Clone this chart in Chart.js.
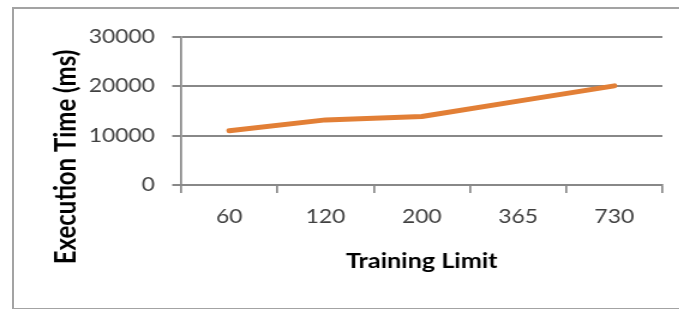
<!DOCTYPE html>
<html lang="en">

<head>
    <meta charset="UTF-8">
    <title>Execution Time vs Training Limit</title>
    <script src="https://cdn.jsdelivr.net/npm/chart.js"></script>
    <style>
        body { margin: 0; background: #fff; }
        .frame {
            position: absolute; left: 12px; top: 7px;
            width: 700px; height: 299px;
            border: 2px solid #a3a3a3;
        }
        /* the source image is stretched sideways, so the chart is too */
        .wrap {
            position: absolute; left: 0; top: 0;
            width: 566px; height: 309px;
            transform: scaleX(1.2); transform-origin: 0 0;
        }
    </style>
</head>

<body>
    <div class="frame"></div>
    <div class="wrap">
        <canvas id="myChart"></canvas>
    </div>

    <script>
        // data
        const categories = ['60', '120', '200', '365', '730'];
        const execTime = [11000, 13200, 13900, 17000, 20100];
        const yTicks = [0, 10000, 20000, 30000];
        const yTitle = 'Execution Time (ms)';

        const axisGray = '#888888';

        // y title sits lower than chart.js would centre it, so draw it by hand
        const yTitlePlugin = {
            id: 'yTitle',
            afterDraw(chart) {
                const c = chart.ctx;
                const area = chart.chartArea;
                c.save();
                c.translate(area.left - 96, area.bottom - 28);
                c.rotate(-Math.PI / 2);
                c.font = 'bold 24px Lato';
                c.fillStyle = '#000';
                c.textAlign = 'center';
                c.textBaseline = 'middle';
                c.fillText(yTitle, 0, 0);
                c.restore();
            }
        };

        const ctx = document.getElementById('myChart');
        const myChart = new Chart(ctx, {
            type: 'line',
            data: {
                labels: categories,
                datasets: [{
                    label: yTitle,
                    data: execTime,
                    borderColor: '#E27F36',
                    backgroundColor: '#E27F36',
                    borderWidth: 5,
                    borderCapStyle: 'round',
                    borderJoinStyle: 'round',
                    pointRadius: 0,
                    tension: 0
                }]
            },
            plugins: [yTitlePlugin],
            options: {
                responsive: true,
                maintainAspectRatio: false,
                animation: false,
                layout: { padding: { left: 30, right: 14, top: 37, bottom: 30 } },
                plugins: {
                    legend: { display: false },
                    tooltip: { enabled: false }
                },
                scales: {
                    x: {
                        offset: true,
                        grid: {
                            offset: true,
                            drawOnChartArea: false,
                            color: axisGray,
                            lineWidth: 1.7,
                            tickLength: 8
                        },
                        border: { color: axisGray, width: 1.7 },
                        ticks: {
                            color: '#404040',
                            padding: 12,
                            font: { family: 'Lato', size: 19 }
                        },
                        title: {
                            display: true,
                            text: 'Training Limit',
                            color: '#000',
                            padding: { top: 4, bottom: 5 },
                            font: { family: 'Lato', size: 21, weight: 'bold' }
                        },
                        afterFit: s => { s.height = 94; }
                    },
                    y: {
                        min: 0,
                        max: 30000,
                        afterBuildTicks: s => { s.ticks = yTicks.map(v => ({ value: v })); },
                        grid: {
                            color: axisGray,
                            lineWidth: 2,
                            tickLength: 7.5
                        },
                        border: { color: axisGray, width: 1.7 },
                        ticks: {
                            color: '#404040',
                            padding: 14.5,
                            font: { family: 'Lato', size: 19 },
                            callback: v => String(v)
                        },
                        afterFit: s => { s.width = 121; }
                    }
                }
            }
        });
    </script>
</body>

</html>
